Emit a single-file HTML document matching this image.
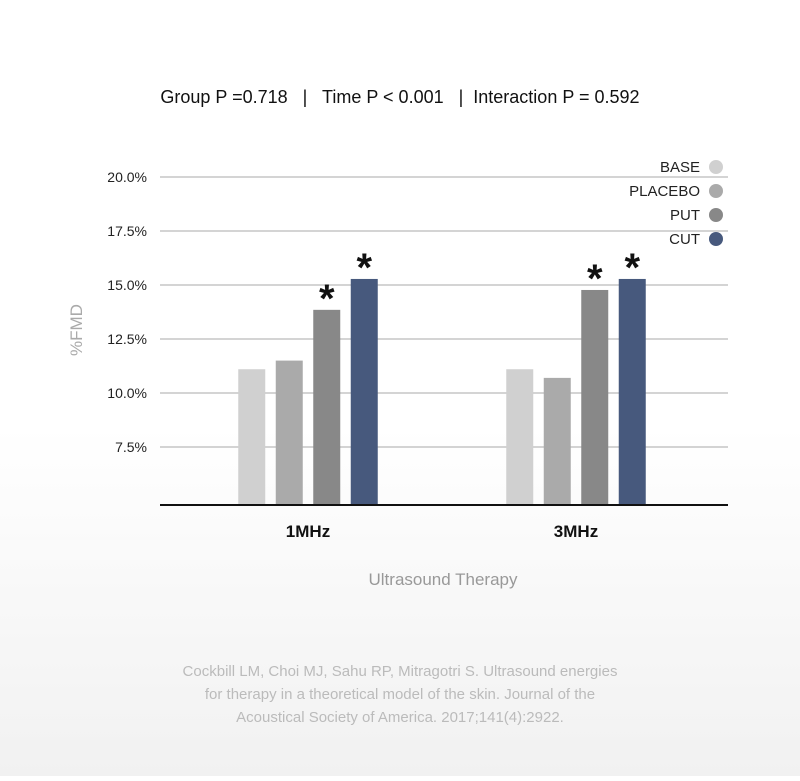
<!DOCTYPE html>
<html><head><meta charset="utf-8"><style>
html,body{margin:0;padding:0}
body{width:800px;height:776px;background:linear-gradient(#ffffff 0%,#ffffff 55%,#f1f1f1 100%);font-family:"Liberation Sans",sans-serif;overflow:hidden}
</style></head><body>
<svg width="800" height="776" xmlns="http://www.w3.org/2000/svg" font-family="Liberation Sans, sans-serif">
<text x="400" y="103" text-anchor="middle" font-size="18" fill="#111" style="white-space:pre">Group P =0.718   |   Time P &lt; 0.001   |  Interaction P = 0.592</text>
<g id="grid"></g>
<g id="bars"></g>
<g id="legend"></g>
<line x1="160" y1="505" x2="728" y2="505" stroke="#111" stroke-width="2"/>
<text x="82" y="330" transform="rotate(-90 82 330)" text-anchor="middle" font-size="17" fill="#aaa">%FMD</text>
<text x="443" y="585" text-anchor="middle" font-size="17" fill="#999">Ultrasound Therapy</text>
<g font-size="15" fill="#bbb" text-anchor="middle">
<text x="400" y="676">Cockbill LM, Choi MJ, Sahu RP, Mitragotri S. Ultrasound energies</text>
<text x="400" y="699">for therapy in a theoretical model of the skin. Journal of the</text>
<text x="400" y="722">Acoustical Society of America. 2017;141(4):2922.</text>
</g>
</svg>
<script>
const categories = ["1MHz","3MHz"];
const seriesNames = ["BASE","PLACEBO","PUT","CUT"];
const seriesColors = ["#d0d0d0","#aaaaaa","#888888","#47597d"];
const baseValues = [11.1, 11.1];
const placeboValues = [11.5, 10.7];
const putValues = [13.85, 14.77];
const cutValues = [15.28, 15.28];
const significant = [[false,false,true,true],[false,false,true,true]];
const yTicks = [7.5, 10.0, 12.5, 15.0, 17.5, 20.0];
const yTickLabels = ["7.5%","10.0%","12.5%","15.0%","17.5%","20.0%"];

const NS="http://www.w3.org/2000/svg";
function y(v){return 447-(v-7.5)*21.6;}
const groupCenters=[308,576];
function x(ci,si){return groupCenters[ci]+(si-1.5)*37.5-13.5;}
function mk(tag,attrs,parent){const e=document.createElementNS(NS,tag);for(const k in attrs)e.setAttribute(k,attrs[k]);parent.appendChild(e);return e;}
const grid=document.getElementById('grid'),bars=document.getElementById('bars'),legend=document.getElementById('legend');
yTicks.forEach((t,i)=>{
  const l=mk('line',{x1:160,x2:728,y1:y(t),y2:y(t),stroke:'#a8a8a8','stroke-width':1},grid);
  
  
  const tx=mk('text',{x:147,y:y(t)+5,'text-anchor':'end','font-size':14,fill:'#222'},grid);
  tx.textContent=yTickLabels[i];
  
  
});
const all=[baseValues,placeboValues,putValues,cutValues];
categories.forEach((c,ci)=>{
  all.forEach((vals,si)=>{
    const top=y(vals[ci]);
    const r=mk('rect',{x:x(ci,si),y:top,width:27,height:505-top,fill:seriesColors[si]},bars);
    
    
    if(significant[ci][si]){
      const s=mk('text',{x:x(ci,si)+13.5,y:top+2,'text-anchor':'middle','font-size':40,'font-weight':'bold',fill:'#111'},bars);
      s.textContent='*';
      
      
    }
  });
  const t=mk('text',{x:groupCenters[ci],y:537,'text-anchor':'middle','font-size':17,'font-weight':'bold',fill:'#111'},bars);
  t.textContent=c;
  
  
});
seriesNames.forEach((n,i)=>{
  const ly=167+i*24;
  const t=mk('text',{x:700,y:ly+5,'text-anchor':'end','font-size':15,fill:'#222'},legend);
  t.textContent=n;
  
  
  const c=mk('circle',{cx:716,cy:ly,r:7,fill:seriesColors[i]},legend);
  
  
});
</script>
</body></html>
